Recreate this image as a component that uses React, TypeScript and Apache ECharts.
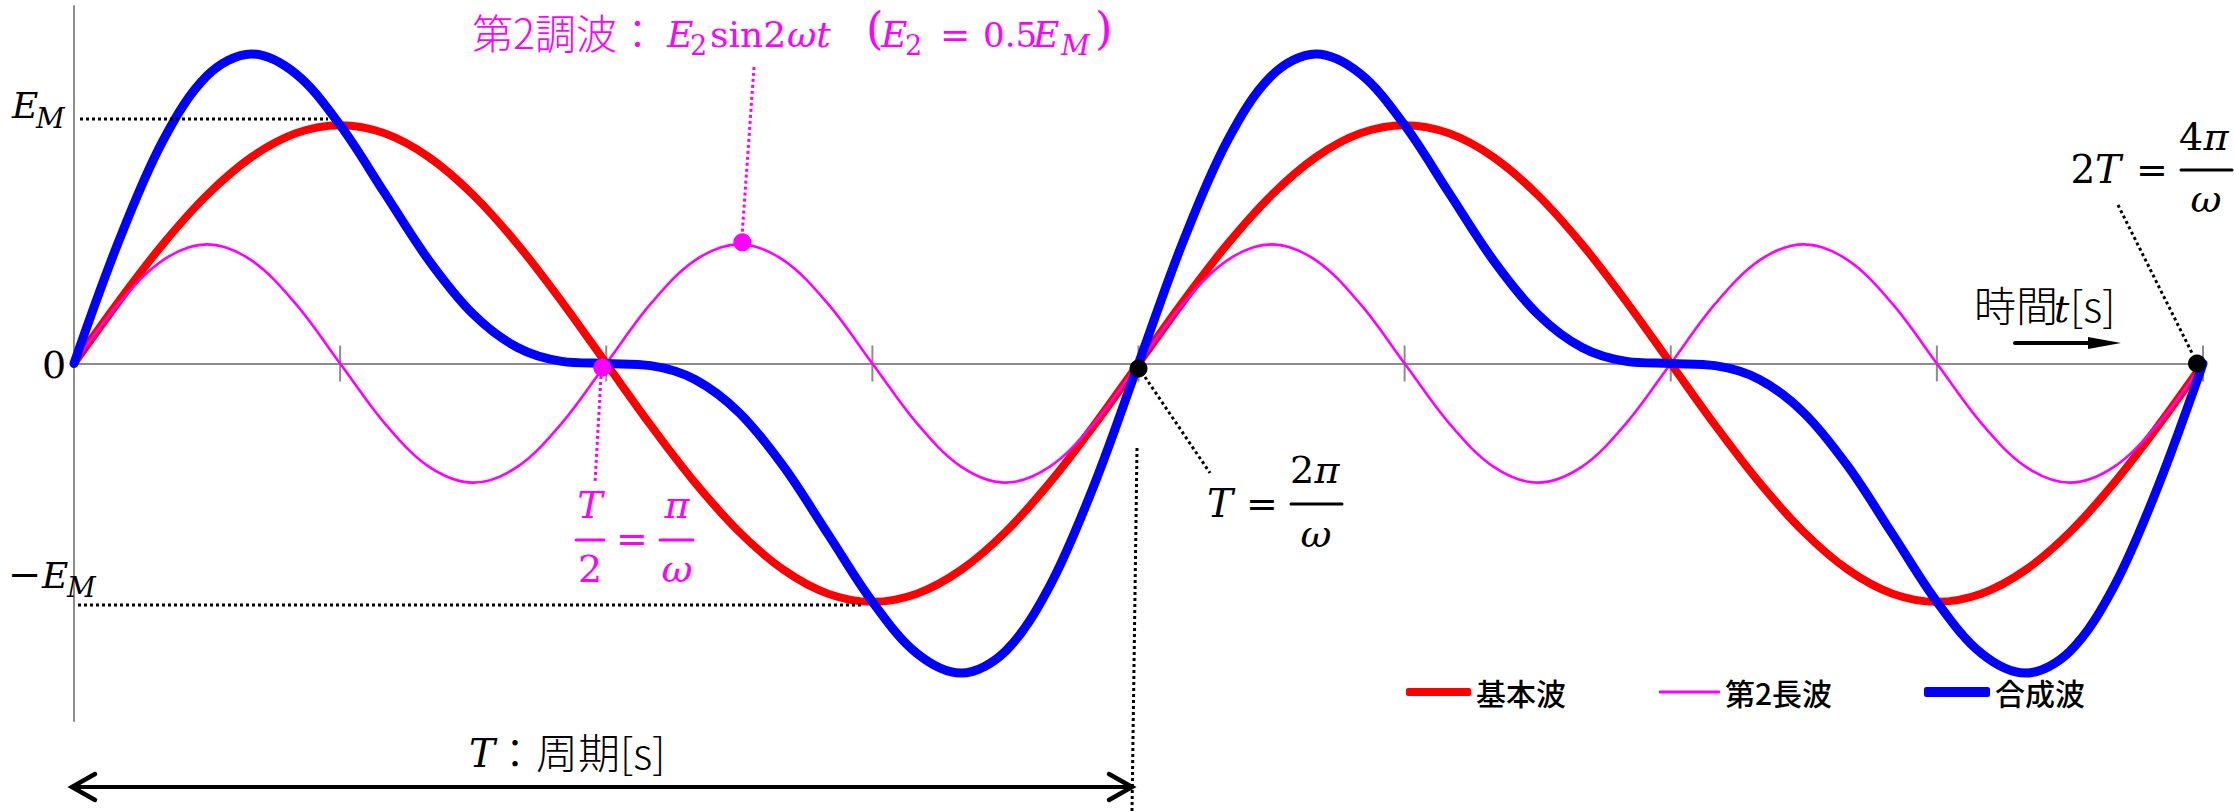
import React, { useEffect, useRef } from "react";
import * as echarts from "echarts";

// Phase angle ωt in degrees, sampled every 15° over two periods (0 … 2T)
const angleDeg = [
  0, 15, 30, 45, 60, 75, 90, 105, 120, 135, 150, 165, 180, 195, 210, 225, 240, 255, 270, 285, 300, 315, 330, 345,
  360, 375, 390, 405, 420, 435, 450, 465, 480, 495, 510, 525, 540, 555, 570, 585, 600, 615, 630, 645, 660, 675, 690, 705,
  720,
];

// 基本波 (unit: E_M)
const fundamental = [
  0, 0.259, 0.5, 0.707, 0.866, 0.966, 1, 0.966, 0.866, 0.707, 0.5, 0.259, 0, -0.259, -0.5, -0.707, -0.866, -0.966, -1,
  -0.966, -0.866, -0.707, -0.5, -0.259, 0, 0.259, 0.5, 0.707, 0.866, 0.966, 1, 0.966, 0.866, 0.707, 0.5, 0.259, 0,
  -0.259, -0.5, -0.707, -0.866, -0.966, -1, -0.966, -0.866, -0.707, -0.5, -0.259, 0,
];

// 第2長波 (E_2 = 0.5 E_M)
const secondHarmonic = [
  0, 0.25, 0.433, 0.5, 0.433, 0.25, 0, -0.25, -0.433, -0.5, -0.433, -0.25, 0, 0.25, 0.433, 0.5, 0.433, 0.25, 0, -0.25,
  -0.433, -0.5, -0.433, -0.25, 0, 0.25, 0.433, 0.5, 0.433, 0.25, 0, -0.25, -0.433, -0.5, -0.433, -0.25, 0, 0.25, 0.433,
  0.5, 0.433, 0.25, 0, -0.25, -0.433, -0.5, -0.433, -0.25, 0,
];

// 合成波
const composite = [
  0, 0.509, 0.933, 1.207, 1.299, 1.216, 1, 0.716, 0.433, 0.207, 0.067, 0.009, 0, -0.009, -0.067, -0.207, -0.433,
  -0.716, -1, -1.216, -1.299, -1.207, -0.933, -0.509, 0, 0.509, 0.933, 1.207, 1.299, 1.216, 1, 0.716, 0.433, 0.207,
  0.067, 0.009, 0, -0.009, -0.067, -0.207, -0.433, -0.716, -1, -1.216, -1.299, -1.207, -0.933, -0.509, 0,
];

// Quarter-period tick marks on the time axis
const tickAngles = [90, 180, 270, 360, 450, 540, 630, 720];

// Marked points: [angle, value, offsetX, offsetY]
const magentaPoints = [
  [180, 0, -4, 4],
  [225, 0.5, 3, -2],
];
const blackPoints = [
  [360, 0, 0, 5],
  [720, 0, -6, 0],
];

const seriesNames = ["基本波", "第2長波", "合成波"];

const RED = "#ff0000";
const MAGENTA = "#ff00ff";
const BLUE = "#0000ff";
const AXIS = "#8c8c8c";
const SERIF = '"DejaVu Serif", serif';
const CJK = '"Noto Sans CJK JP", sans-serif';

type TxtOpt = { cjk?: boolean; italic?: boolean; color?: string; align?: string; weight?: any };

function txt(text: string, x: number, base: number, size: number, o: TxtOpt = {}) {
  const k = o.cjk ? 0.4 : 0.346;
  return {
    type: "text",
    z: 100,
    x,
    y: base - k * size,
    style: {
      text,
      fontSize: size,
      lineHeight: size,
      fontFamily: o.cjk ? CJK : SERIF,
      fontStyle: o.italic ? "italic" : "normal",
      fontWeight: o.weight != null ? o.weight : o.cjk ? 300 : "normal",
      fill: o.color || "#000",
      align: o.align || "left",
      verticalAlign: "middle",
    },
  };
}

function seg(x1: number, y1: number, x2: number, y2: number, color: string, width: number, dash?: number[]) {
  return {
    type: "line",
    z: 90,
    shape: { x1, y1, x2, y2 },
    style: { stroke: color, lineWidth: width, lineDash: dash || null, lineCap: dash ? "butt" : "round" },
  };
}

function chevron(pts: number[][]) {
  return {
    type: "polyline",
    z: 90,
    shape: { points: pts },
    style: { stroke: "#000", lineWidth: 4.5, fill: null, lineCap: "round", lineJoin: "miter" },
  };
}

export default function App() {
  const ref = useRef<HTMLDivElement>(null);

  useEffect(() => {
    if (!ref.current) return;
    const chart = echarts.init(ref.current, undefined, { renderer: "svg" });

    const pair = (vals: number[]) => angleDeg.map((a, i) => [a, vals[i]]);
    const dots = (pts: number[][]) =>
      pts.map((p) => ({ value: [p[0], p[1]], symbolOffset: [p[2], p[3]] }));

    const dotted = [3, 3];
    const M = { color: MAGENTA };
    const MI = { color: MAGENTA, italic: true };

    const graphic: any[] = [
      // level guides
      seg(80, 119, 328, 119, "#000", 3, dotted),
      seg(78, 605, 862, 605, "#000", 3, dotted),
      // leaders to the labels
      seg(754, 67, 742, 236, MAGENTA, 3, dotted),
      seg(601, 376, 595, 483, MAGENTA, 3, dotted),
      seg(1145, 377, 1210, 473, "#000", 3, dotted),
      seg(2118, 205, 2192, 353, "#000", 3, dotted),
      seg(1137, 448, 1132, 811, "#000", 3, dotted),

      // period arrow
      seg(73, 787, 1131, 787, "#000", 4),
      chevron([[95, 774], [72, 787], [95, 800]]),
      chevron([[1109, 774], [1132, 787], [1109, 800]]),

      // time arrow
      seg(2015, 343, 2094, 343, "#000", 4),
      {
        type: "polygon",
        z: 90,
        shape: { points: [[2088, 337], [2121, 343], [2088, 349]] },
        style: { fill: "#000" },
      },

      // axis labels
      txt("E", 12, 118, 36, { italic: true }),
      txt("M", 36, 128, 28, { italic: true }),
      txt("0", 42, 378, 38),
      txt("−", 8, 588, 40),
      txt("E", 42, 588, 36, { italic: true }),
      txt("M", 67, 597, 28, { italic: true }),

      // 第2調波 label
      txt("第2調波：", 472, 47, 41, { cjk: true, color: MAGENTA }),
      txt("E", 667, 47, 36, MI),
      txt("2", 690, 55, 27, M),
      txt("sin2", 710, 47, 36, M),
      txt("ωt", 787, 47, 36, MI),
      txt("(", 866, 44, 45, M),
      txt("E", 881, 47, 36, MI),
      txt("2", 905, 55, 27, M),
      txt("=", 940, 47, 36, M),
      txt("0.5", 983, 47, 34, M),
      txt("E", 1033, 47, 36, MI),
      txt("M", 1061, 55, 28, MI),
      txt(")", 1095, 44, 45, M),

      // T/2 = π/ω
      txt("T", 590, 518, 38, { ...MI, align: "center" }),
      seg(576, 540, 604, 540, MAGENTA, 3),
      txt("2", 590, 582, 38, { ...M, align: "center" }),
      txt("=", 632, 552, 38, { ...M, align: "center" }),
      seg(660, 540, 693, 540, MAGENTA, 3),
      txt("π", 677, 518, 38, { ...MI, align: "center" }),
      txt("ω", 677, 582, 38, { ...MI, align: "center" }),

      // T = 2π/ω
      txt("T", 1220, 517, 39, { italic: true, align: "center" }),
      txt("=", 1262, 517, 38, { align: "center" }),
      seg(1291, 504, 1342, 504, "#000", 3),
      txt("2", 1302, 483, 38, { align: "center" }),
      txt("π", 1327, 483, 38, { italic: true, align: "center" }),
      txt("ω", 1316, 547, 38, { italic: true, align: "center" }),

      // 2T = 4π/ω
      txt("2", 2083, 183, 39, { align: "center" }),
      txt("T", 2108, 183, 39, { italic: true, align: "center" }),
      txt("=", 2152, 183, 38, { align: "center" }),
      seg(2181, 170, 2232, 170, "#000", 3),
      txt("4", 2191, 150, 38, { align: "center" }),
      txt("π", 2216, 150, 38, { italic: true, align: "center" }),
      txt("ω", 2206, 212, 38, { italic: true, align: "center" }),

      // 時間t[s]
      txt("時間", 1974, 320, 42, { cjk: true }),
      txt("t", 2054, 322, 38, { italic: true }),
      txt("[s]", 2070, 320, 42, { cjk: true }),

      // T：周期[s]
      txt("T", 469, 767, 39, { italic: true }),
      txt("：周期[s]", 494, 767, 42, { cjk: true }),
    ];

    const legendBase = {
      top: 677,
      padding: 0,
      selectedMode: false,
      icon: "roundRect",
      itemStyle: { borderWidth: 0 },
      textStyle: { fontSize: 30, fontFamily: CJK, fontWeight: 500, color: "#000" },
    };

    chart.setOption({
      animation: false,
      backgroundColor: "#ffffff",
      grid: { left: 74, right: 31, top: 6, bottom: 90, containLabel: false },
      xAxis: {
        type: "value",
        min: 0,
        max: 720,
        axisLine: { show: true, onZero: true, lineStyle: { color: AXIS, width: 2 } },
        axisTick: { show: false },
        axisLabel: { show: false },
        splitLine: { show: false },
      },
      yAxis: {
        type: "value",
        min: -1.5,
        max: 1.5,
        axisLine: { show: true, onZero: false, lineStyle: { color: AXIS, width: 2 } },
        axisTick: { show: false },
        axisLabel: { show: false },
        splitLine: { show: false },
      },
      legend: [
        { ...legendBase, data: [seriesNames[0]], left: 1406, itemWidth: 65, itemHeight: 8 },
        { ...legendBase, data: [seriesNames[1]], left: 1659, itemWidth: 61, itemHeight: 3 },
        { ...legendBase, data: [seriesNames[2]], left: 1924, itemWidth: 66, itemHeight: 10 },
      ],
      graphic,
      series: [
        {
          type: "custom",
          silent: true,
          data: tickAngles.map((a) => [a, 0]),
          renderItem: (_p: any, api: any) => {
            const pt = api.coord([api.value(0), 0]);
            return {
              type: "line",
              shape: { x1: pt[0], y1: pt[1] - 18, x2: pt[0], y2: pt[1] + 18 },
              style: { stroke: AXIS, lineWidth: 2 },
            };
          },
          z: 1,
        },
        {
          name: seriesNames[0],
          type: "line",
          data: pair(fundamental),
          smooth: 0.34,
          showSymbol: false,
          symbol: "none",
          clip: false,
          color: RED,
          itemStyle: { color: RED },
          lineStyle: { color: RED, width: 8, cap: "round", join: "round" },
          z: 2,
        },
        {
          name: seriesNames[1],
          type: "line",
          data: pair(secondHarmonic),
          smooth: 0.34,
          showSymbol: false,
          symbol: "none",
          clip: false,
          color: MAGENTA,
          itemStyle: { color: MAGENTA },
          lineStyle: { color: MAGENTA, width: 2.6, cap: "round", join: "round" },
          z: 3,
        },
        {
          name: seriesNames[2],
          type: "line",
          data: pair(composite),
          smooth: 0.34,
          showSymbol: false,
          symbol: "none",
          clip: false,
          color: BLUE,
          itemStyle: { color: BLUE },
          lineStyle: { color: BLUE, width: 9, cap: "round", join: "round" },
          z: 4,
        },
        {
          type: "scatter",
          data: dots(magentaPoints),
          symbol: "circle",
          symbolSize: 18,
          itemStyle: { color: MAGENTA, opacity: 1 },
          silent: true,
          z: 5,
        },
        {
          type: "scatter",
          data: dots(blackPoints),
          symbol: "circle",
          symbolSize: 18,
          itemStyle: { color: "#000", opacity: 1 },
          silent: true,
          z: 5,
        },
      ],
    });

    return () => chart.dispose();
  }, []);

  return (
    <div
      ref={ref}
      style={{ position: "fixed", left: 0, top: 0, width: "2234px", height: "811px", background: "#fff" }}
    />
  );
}
